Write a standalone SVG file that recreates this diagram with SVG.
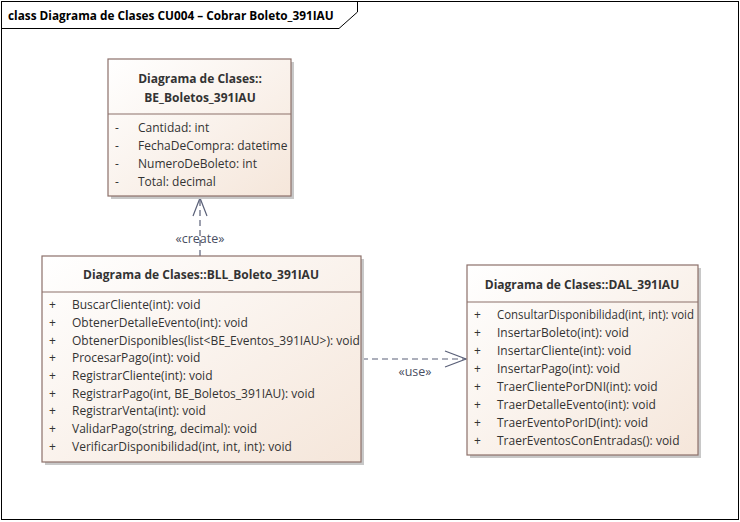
<svg xmlns="http://www.w3.org/2000/svg" width="740" height="522" viewBox="0 0 740 522">
<defs>
<linearGradient id="g" x1="0" y1="0" x2="1" y2="1">
<stop offset="0" stop-color="#FFFFFF"/>
<stop offset="1" stop-color="#F5E6DA"/>
</linearGradient>
<style>
.box{fill:url(#g);stroke:#8C706A;stroke-width:1.2}
.sh{fill:#C8C8C8}
.div{stroke:#8C706A;stroke-width:1.2}
.t{font-family:"Open Sans","Liberation Sans",sans-serif;font-size:12px;fill:#333333}
.b{font-weight:bold;text-anchor:middle}
.c{stroke:#5A6078;stroke-width:1.2;fill:none}
.d{stroke-dasharray:6,4}
.l{font-family:"Open Sans","Liberation Sans",sans-serif;font-size:12.5px;fill:#4A4F62;text-anchor:middle}
</style>
</defs>
<rect x="0" y="0" width="740" height="522" fill="#FFFFFF"/>
<g id="frame">
<rect x="1.5" y="1.5" width="737" height="518" fill="none" stroke="#000" stroke-width="1"/>
<path d="M1.5 28.5 H339 L357.5 12 V1.5" fill="none" stroke="#000" stroke-width="1"/>
<text x="8" y="20" font-family="'Open Sans','Liberation Sans',sans-serif" font-size="11.8" font-weight="bold" fill="#000">class Diagrama de Clases CU004 – Cobrar Boleto_391IAU</text>
</g>
<g id="connectors">
<line class="c d" x1="200" y1="256" x2="200" y2="198"/>
<path class="c" d="M193 216 L200 198 L207 216"/>
<text class="l" x="200" y="243">«create»</text>
<line class="c d" x1="362" y1="359" x2="466" y2="359"/>
<path class="c" d="M445 351 L466 359 L445 367"/>
<text class="l" x="415" y="376">«use»</text>
</g>
<g id="BE_Boletos_391IAU">
<rect class="sh" x="111" y="62" width="183" height="137"/>
<rect class="box" x="108" y="59" width="183" height="137"/>
<line class="div" x1="108" y1="114" x2="291" y2="114"/>
<text class="t b" x="200" y="83">Diagrama de Clases::</text>
<text class="t b" x="200" y="102">BE_Boletos_391IAU</text>
<text class="t" x="115" y="132">-</text><text class="t" x="138" y="132">Cantidad: int</text>
<text class="t" x="115" y="150">-</text><text class="t" x="138" y="150">FechaDeCompra: datetime</text>
<text class="t" x="115" y="168">-</text><text class="t" x="138" y="168">NumeroDeBoleto: int</text>
<text class="t" x="115" y="186">-</text><text class="t" x="138" y="186">Total: decimal</text>
</g>
<g id="BLL_Boleto_391IAU">
<rect class="sh" x="45" y="259" width="319" height="206"/>
<rect class="box" x="42" y="256" width="319" height="206"/>
<line class="div" x1="42" y1="292" x2="361" y2="292"/>
<text class="t b" x="201" y="279">Diagrama de Clases::BLL_Boleto_391IAU</text>
<text class="t" x="49" y="309">+</text><text class="t" x="72" y="309">BuscarCliente(int): void</text>
<text class="t" x="49" y="327">+</text><text class="t" x="72" y="327">ObtenerDetalleEvento(int): void</text>
<text class="t" x="49" y="345">+</text><text class="t" x="72" y="345">ObtenerDisponibles(list&lt;BE_Eventos_391IAU&gt;): void</text>
<text class="t" x="49" y="362">+</text><text class="t" x="72" y="362">ProcesarPago(int): void</text>
<text class="t" x="49" y="380">+</text><text class="t" x="72" y="380">RegistrarCliente(int): void</text>
<text class="t" x="49" y="398">+</text><text class="t" x="72" y="398">RegistrarPago(int, BE_Boletos_391IAU): void</text>
<text class="t" x="49" y="415">+</text><text class="t" x="72" y="415">RegistrarVenta(int): void</text>
<text class="t" x="49" y="433">+</text><text class="t" x="72" y="433">ValidarPago(string, decimal): void</text>
<text class="t" x="49" y="451">+</text><text class="t" x="72" y="451">VerificarDisponibilidad(int, int, int): void</text>
</g>
<g id="DAL_391IAU">
<rect class="sh" x="470" y="268" width="231" height="190"/>
<rect class="box" x="467" y="265" width="231" height="190"/>
<line class="div" x1="467" y1="302" x2="698" y2="302"/>
<text class="t b" x="582" y="289">Diagrama de Clases::DAL_391IAU</text>
<text class="t" x="474" y="319">+</text><text class="t" x="497" y="319" textLength="197" lengthAdjust="spacingAndGlyphs">ConsultarDisponibilidad(int, int): void</text>
<text class="t" x="474" y="337">+</text><text class="t" x="497" y="337">InsertarBoleto(int): void</text>
<text class="t" x="474" y="355">+</text><text class="t" x="497" y="355">InsertarCliente(int): void</text>
<text class="t" x="474" y="373">+</text><text class="t" x="497" y="373">InsertarPago(int): void</text>
<text class="t" x="474" y="391">+</text><text class="t" x="497" y="391">TraerClientePorDNI(int): void</text>
<text class="t" x="474" y="409">+</text><text class="t" x="497" y="409">TraerDetalleEvento(int): void</text>
<text class="t" x="474" y="427">+</text><text class="t" x="497" y="427">TraerEventoPorID(int): void</text>
<text class="t" x="474" y="445">+</text><text class="t" x="497" y="445">TraerEventosConEntradas(): void</text>
</g>
</svg>
